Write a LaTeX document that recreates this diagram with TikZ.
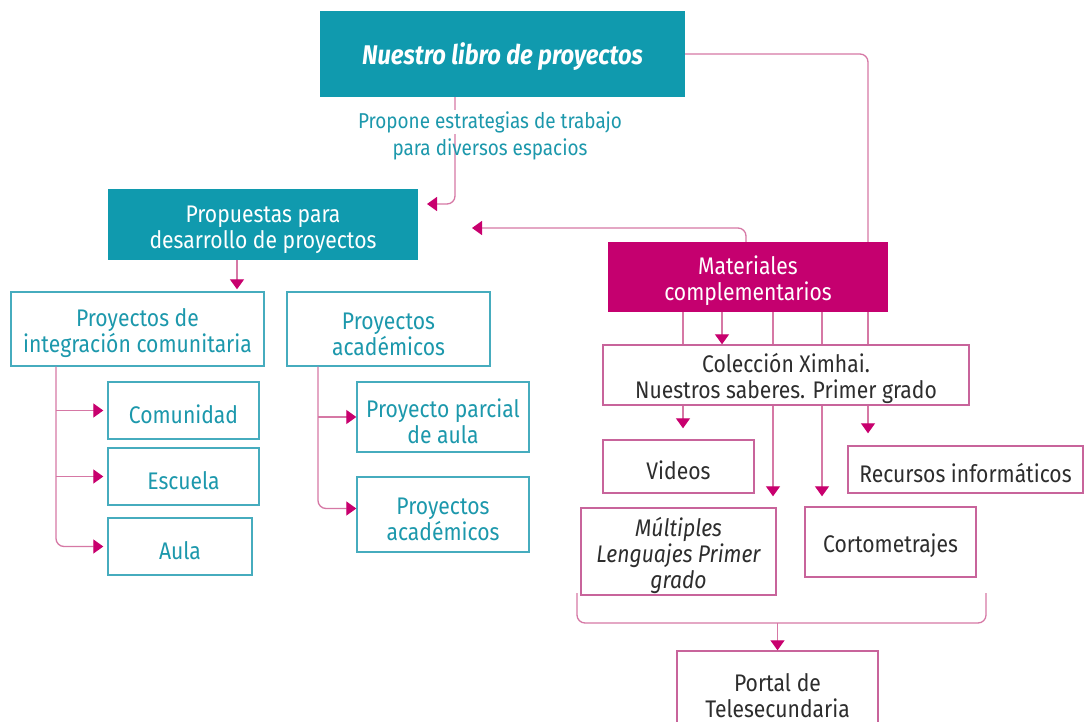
\documentclass[tikz,border=0pt]{standalone}
\usepackage{fontspec}
\setmainfont[FakeStretch=0.88]{Fira Sans}
\usetikzlibrary{arrows.meta,calc}
\definecolor{tealF}{RGB}{16,154,174}
\definecolor{tealL}{RGB}{70,172,190}
\definecolor{tealT}{RGB}{28,152,172}
\definecolor{magF}{RGB}{197,0,111}
\definecolor{pinkL}{RGB}{200,100,155}
\definecolor{connC}{RGB}{214,120,165}
\definecolor{arrC}{RGB}{200,0,110}
\definecolor{darkT}{RGB}{45,45,45}
\newcommand\bx[7]{\node[#6, minimum width={#4-#2}, minimum height={#5-#3}] (#1) at ({(#2+#4)/2},{(#3+#5)/2}) {#7};}
\newcommand\mystrut{\rule{0pt}{27pt}}
\begin{document}
\begin{tikzpicture}[x=1pt,y=-1pt,
  txt/.style={font=\fontsize{24}{26}\selectfont, align=center, inner sep=0pt},
  tealfill/.style={txt, fill=tealF, text=white},
  magfill/.style={txt, fill=magF, text=white},
  tealbox/.style={txt, draw=tealL, line width=1.4pt, fill=white, text=tealT},
  pinkbox/.style={txt, draw=pinkL, line width=1.4pt, fill=white, text=darkT},
  conn/.style={draw=connC, line width=1.3pt, rounded corners=8pt},
  arr/.style={conn, -{Triangle[color=arrC, length=10pt, width=14pt]}}]
\clip (0,0) rectangle (1086,722);
\fill[white] (0,0) rectangle (1086,722);
% boxes
\bx{nue}{320}{11}{685}{97}{tealfill}{\fontsize{27}{30}\selectfont\bfseries\itshape\mystrut Nuestro libro de proyectos}
\bx{prop}{108}{189}{418}{260}{tealfill}{\mystrut Propuestas para\\desarrollo de proyectos}
\bx{mat}{608}{242}{888}{312}{magfill}{\mystrut Materiales\\complementarios}
\bx{pic}{11}{292}{264}{366}{tealbox}{\mystrut Proyectos de\\integración comunitaria}
\bx{pa}{287}{292}{490}{366}{tealbox}{\mystrut Proyectos\\académicos}
\bx{com}{108}{382}{259}{439}{tealbox}{\mystrut Comunidad}
\bx{esc}{108}{448}{259}{505}{tealbox}{\mystrut Escuela}
\bx{aula}{108}{518}{252}{575}{tealbox}{\mystrut Aula}
\bx{ppa}{357}{382}{529}{452}{tealbox}{\mystrut Proyecto parcial\\de aula}
\bx{pa2}{357}{477}{529}{552}{tealbox}{\mystrut Proyectos\\académicos}
\bx{col}{603}{345}{969}{405}{pinkbox}{\mystrut Colección Ximhai.\\Nuestros saberes. Primer grado}
\bx{vid}{603}{440}{754}{493}{pinkbox}{\mystrut Videos}
\bx{rec}{848}{446}{1083}{493}{pinkbox}{\mystrut Recursos informáticos}
\bx{mult}{581}{508}{776}{595}{pinkbox}{\itshape\mystrut Múltiples\\\itshape Lenguajes Primer\\\itshape grado}
\bx{corto}{805}{507}{976}{577}{pinkbox}{\mystrut Cortometrajes}
\bx{port}{677}{651}{878}{740}{pinkbox}{Portal de\\Telesecundaria}
% helper coordinates
\coordinate (xA) at (455,0);
\coordinate (tA) at (427,204);
\coordinate (xB) at (746,0);
\coordinate (tB) at (472,228);
\coordinate (xR) at (868,0);
\coordinate (xP) at (237,0);
\coordinate (xL) at (56,0);
\coordinate (xT) at (318,0);
\coordinate (x1) at (683,0);
\coordinate (x2) at (722,0);
\coordinate (x3) at (773,0);
\coordinate (x4) at (822,0);
\coordinate (bL) at (577,593);
\coordinate (bR) at (986,593);
\coordinate (bY) at (0,623);
% connectors
\draw[arr] (nue.south -| xA) |- (tA);
\node[font=\fontsize{21.5}{28}\selectfont, text=tealT, fill=white, inner sep=1pt] (lab1) at (490,122) {Propone estrategias de trabajo};
\node[font=\fontsize{21.5}{28}\selectfont, text=tealT, inner sep=1pt] (lab2) at (490,149) {para diversos espacios};
\draw[conn] (nue.east) -| (mat.north -| xR);
\draw[arr] (mat.north -| xB) |- (tB);
\draw[arr, shorten >=2pt] (prop.south -| xP) -- (pic.north -| xP);
\draw[arr, shorten >=4pt] (pic.south -| xL) |- (aula.west);
\draw[arr, shorten >=4pt] (com.west -| xL) -- (com.west);
\draw[arr, shorten >=4pt] (esc.west -| xL) -- (esc.west);
\draw[arr] (pa.south -| xT) |- ($(pa2.west)+(0,-6)$);
\draw[arr] (ppa.west -| xT) -- (ppa.west);
\draw[arr] (mat.south -| x2) -- (col.north -| x2);
\draw[conn] (mat.south -| x1) -- (col.north -| x1);
\draw[conn] (mat.south -| x3) -- (col.north -| x3);
\draw[conn] (mat.south -| x4) -- (col.north -| x4);
\draw[conn] (mat.south -| xR) -- (col.north -| xR);
\draw[arr, shorten >=11pt] (col.south -| x1) -- (vid.north -| x1);
\draw[arr, shorten >=11pt] (col.south -| x3) -- (mult.north -| x3);
\draw[arr, shorten >=10pt] (col.south -| x4) -- (corto.north -| x4);
\draw[arr, shorten >=12pt] (col.south -| xR) -- (rec.north -| xR);
\draw[conn] (bL) -- (bL |- bY) -- (bR |- bY) -- (bR);
\draw[arr] (port.north |- bY) -- (port.north);
\end{tikzpicture}
\end{document}
